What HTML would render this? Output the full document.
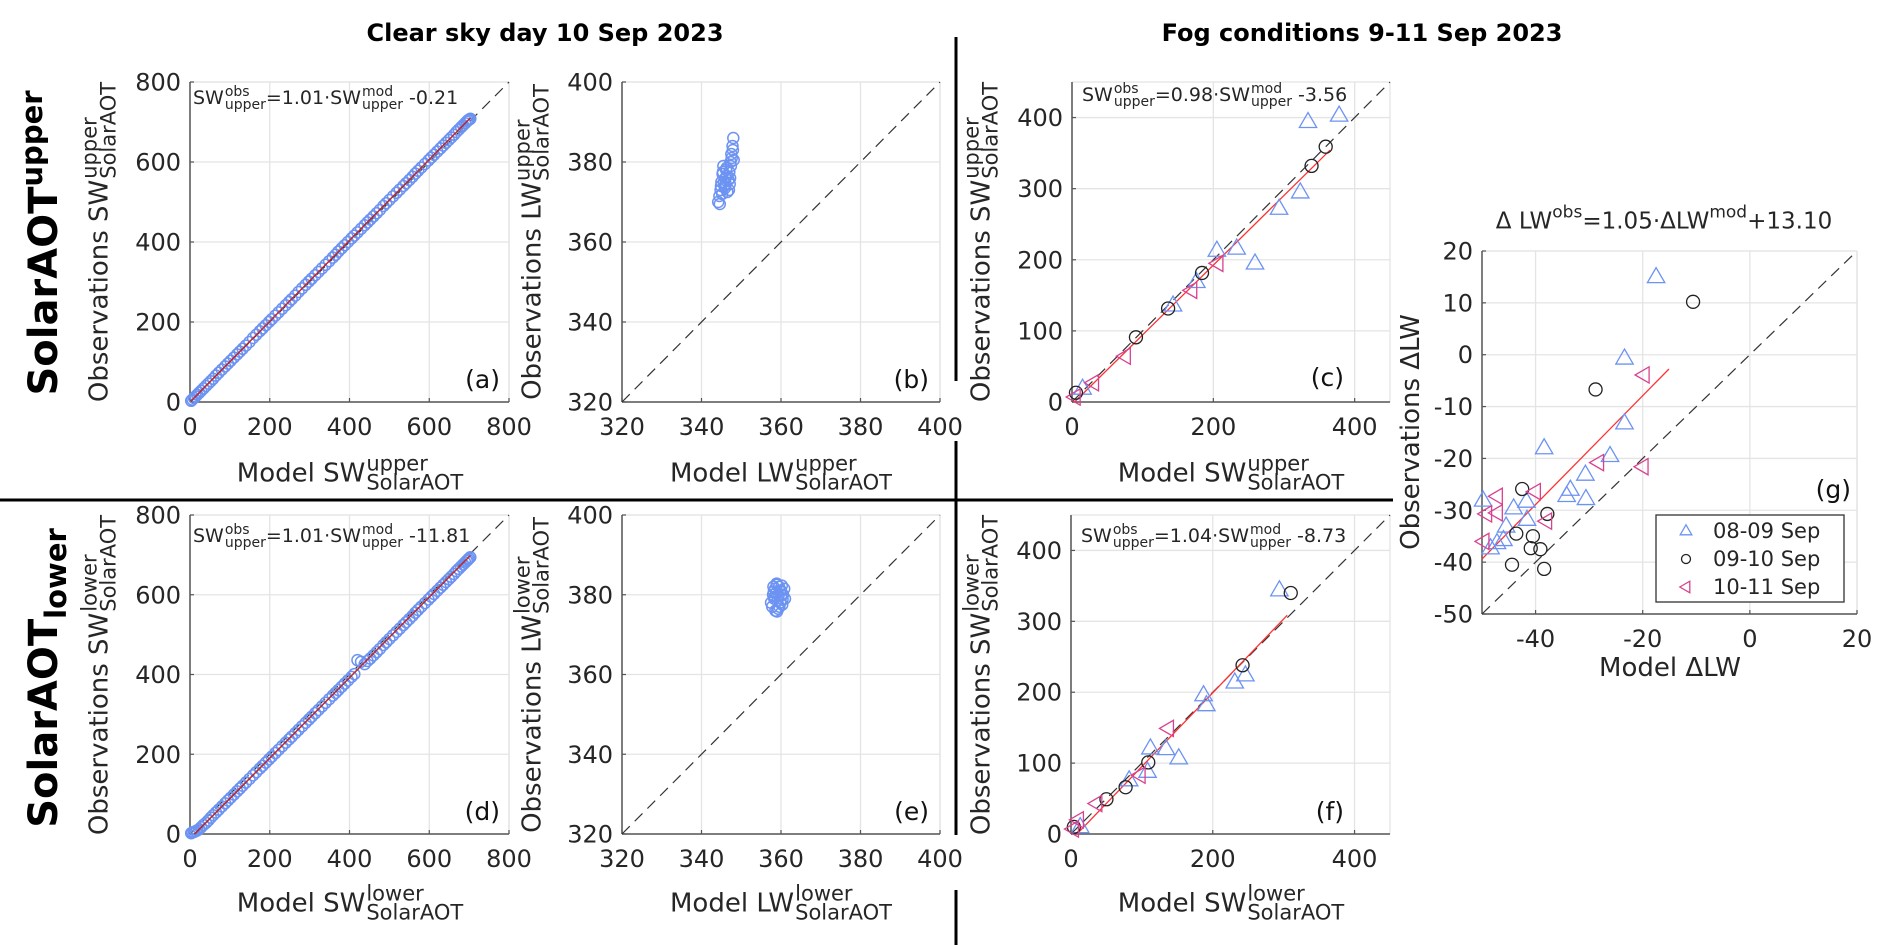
<!DOCTYPE html>
<html><head><meta charset="utf-8">
<style>
html,body{margin:0;padding:0;background:#fff;}
#wrap{position:relative;width:1892px;height:945px;overflow:hidden;background:#fff;font-family:"DejaVu Sans","Liberation Sans",sans-serif;color:#262626;}
svg{position:absolute;left:0;top:0;}
.lab{position:absolute;display:flex;align-items:center;white-space:nowrap;line-height:1;}
.stk{display:inline-flex;flex-direction:column;line-height:0.92;margin-left:1px;}
.ax{font-size:26px;}
.ax .stk span{font-size:21px;}
.eq{font-size:19px;transform:translateY(-50%);}
.eq .stk span{font-size:14px;}
.rot{transform:translate(-50%,-50%) rotate(-90deg);}
.hc{transform:translate(-50%,-50%);}
.row{font-size:40px;font-weight:bold;color:#000;}
.ttl{font-size:24px;font-weight:bold;color:#000;}
.gt{font-size:23px;}
.gt .sp{font-size:17px;position:relative;top:-0.55em;}
</style></head>
<body>
<div id="wrap">
<svg id="chart" width="1892" height="945" viewBox="0 0 1892 945" xmlns="http://www.w3.org/2000/svg"></svg>

<div class="lab ttl hc" style="left:545px;top:33px;">Clear sky day 10 Sep 2023</div>
<div class="lab ttl hc" style="left:1362px;top:33px;">Fog conditions 9-11 Sep 2023</div>

<div class="lab row rot" style="left:44px;top:243px;"><span>SolarAOT</span><span style="font-size:29px;position:relative;top:-12px;">upper</span></div>
<div class="lab row rot" style="left:44px;top:678px;"><span>SolarAOT</span><span style="font-size:29px;position:relative;top:12px;">lower</span></div>

<div class="lab ax rot" style="left:100px;top:242px;"><span>Observations SW</span><span class="stk"><span>upper</span><span>SolarAOT</span></span></div>
<div class="lab ax rot" style="left:533px;top:242px;"><span>Observations LW</span><span class="stk"><span>upper</span><span>SolarAOT</span></span></div>
<div class="lab ax rot" style="left:982px;top:242px;"><span>Observations SW</span><span class="stk"><span>upper</span><span>SolarAOT</span></span></div>
<div class="lab ax rot" style="left:100px;top:675px;"><span>Observations SW</span><span class="stk"><span>lower</span><span>SolarAOT</span></span></div>
<div class="lab ax rot" style="left:533px;top:675px;"><span>Observations LW</span><span class="stk"><span>lower</span><span>SolarAOT</span></span></div>
<div class="lab ax rot" style="left:982px;top:675px;"><span>Observations SW</span><span class="stk"><span>lower</span><span>SolarAOT</span></span></div>
<div class="lab ax rot" style="left:1411px;top:432px;"><span>Observations ΔLW</span></div>

<div class="lab ax hc" style="left:350px;top:474px;"><span>Model SW</span><span class="stk"><span>upper</span><span>SolarAOT</span></span></div>
<div class="lab ax hc" style="left:781px;top:474px;"><span>Model LW</span><span class="stk"><span>upper</span><span>SolarAOT</span></span></div>
<div class="lab ax hc" style="left:1231px;top:474px;"><span>Model SW</span><span class="stk"><span>upper</span><span>SolarAOT</span></span></div>
<div class="lab ax hc" style="left:350px;top:904px;"><span>Model SW</span><span class="stk"><span>lower</span><span>SolarAOT</span></span></div>
<div class="lab ax hc" style="left:781px;top:904px;"><span>Model LW</span><span class="stk"><span>lower</span><span>SolarAOT</span></span></div>
<div class="lab ax hc" style="left:1231px;top:904px;"><span>Model SW</span><span class="stk"><span>lower</span><span>SolarAOT</span></span></div>
<div class="lab ax hc" style="left:1670px;top:668px;"><span>Model ΔLW</span></div>

<div class="lab eq" style="left:193px;top:99px;"><span>SW</span><span class="stk"><span>obs</span><span>upper</span></span><span>=1.01·SW</span><span class="stk"><span>mod</span><span>upper</span></span><span>&nbsp;-0.21</span></div>
<div class="lab eq" style="left:1082px;top:96px;"><span>SW</span><span class="stk"><span>obs</span><span>upper</span></span><span>=0.98·SW</span><span class="stk"><span>mod</span><span>upper</span></span><span>&nbsp;-3.56</span></div>
<div class="lab eq" style="left:193px;top:537px;"><span>SW</span><span class="stk"><span>obs</span><span>upper</span></span><span>=1.01·SW</span><span class="stk"><span>mod</span><span>upper</span></span><span>&nbsp;-11.81</span></div>
<div class="lab eq" style="left:1081px;top:537px;"><span>SW</span><span class="stk"><span>obs</span><span>upper</span></span><span>=1.04·SW</span><span class="stk"><span>mod</span><span>upper</span></span><span>&nbsp;-8.73</span></div>
<div class="lab gt hc" style="left:1664px;top:222px;"><span>Δ LW</span><span class="sp">obs</span><span>=1.05·ΔLW</span><span class="sp">mod</span><span>+13.10</span></div>
</div>

<script>
// ---- data ----
const modelA=[3,6,10,14,18,23,28,34,40,46,52,58,65,72,80,88,95,102,110,118,125,132,140,149,158,166,175,182,190,198,205,214,222,231,240,248,255,264,272,281,290,298,305,314,322,331,340,349,358,365,372,380,388,396,405,412,420,429,438,445,452,460,468,476,485,492,500,509,518,526,535,542,550,558,565,572,580,589,598,605,612,620,628,635,642,649,655,662,668,674,680,685,690,694,697,700,703];
const obsA=[3,6,10,14,18,23,28,34,40,46,52,58,66,73,81,89,96,103,111,119,126,133,141,150,160,168,177,184,192,200,207,216,224,233,242,250,257,266,275,284,293,301,308,317,325,334,343,352,361,368,376,384,392,400,409,416,424,433,442,449,456,464,472,480,490,497,505,514,523,531,540,547,555,563,571,578,586,595,604,611,618,626,634,641,648,655,661,668,675,681,687,692,697,701,704,706,708];
const modelD=[3,6,10,14,18,23,28,34,40,46,52,58,65,72,80,88,95,102,110,118,125,132,140,149,158,166,175,182,190,198,205,214,222,231,240,248,255,264,272,281,290,298,305,314,322,331,340,349,358,365,372,380,388,396,405,412,420,429,438,445,452,460,468,476,485,492,500,509,518,526,535,542,550,558,565,572,580,589,598,605,612,620,628,635,642,649,655,662,668,674,680,685,690,694,697,700,703];
const obsD=[2,4,5,7,9,12,17,23,28,34,41,47,54,61,69,77,84,91,99,107,114,121,129,138,147,155,164,171,179,187,194,203,211,220,229,237,244,253,261,270,279,287,294,303,311,320,329,338,347,354,361,369,377,385,394,401,436,432,426,434,440,448,456,464,474,481,489,498,507,515,524,531,539,547,555,562,570,579,588,595,602,610,618,625,632,639,645,652,659,665,671,676,681,685,688,691,694];
const lwModelB=[344.2,344.5,344.8,345,345.3,345.5,345.8,346,346.2,346.5,346.8,347,347.3,347.5,347.8,348,344.6,345.2,345.9,346.4,347.1,347.6,347.9,348.1,345.6,346.3,344.9,347.4,346.9,345.4,347.2,346.1];
const lwObsB=[370,371.5,373,375,377,379,374,376,378,372.5,375.5,377.5,380,382,384,386,369.5,372,373.5,376.5,374.5,381,383,380.5,375,378.5,374,379,373,377.5,376,374.5];
const lwModelE=[357.5,358,358.5,359,359.5,360,360.5,361,357.8,358.3,358.8,359.3,359.8,360.3,360.8,358.1,358.6,359.1,359.6,360.1,359,358.4,359.7,360.4,358.9,359.4,360.2,358.2];
const lwObsE=[378,380,381.5,382.5,382,381,380,379,377,379,380.5,376.5,378,377.5,381.5,382,376,378.5,377,380,375.8,379.5,381,378.8,382.8,379.8,382.3,380.8];
const cBlueX=[15,143,176,205,233,259,293,323,334,378];
const cBlueY=[19,136,169,213,216,195,272,295,394,403];
const cBlackX=[5.6,90.5,136,184,339,359];
const cBlackY=[13,91,131.5,181.5,332,359];
const cMagX=[4,30,75,169,206];
const cMagY=[7,27,64.5,157,195];
const fBlueX=[13,82,108,112,134,152,187,191,231,246,294];
const fBlueY=[10,76,88,121,120,107,196,182,214,224,344];
const fBlackX=[4,50,77,109,242,310];
const fBlackY=[10,49,66,101,238,340];
const fMagX=[3,10,36,97,137];
const fMagY=[7,20,43,83,149];
const gBlueX=[-17.5,-23.4,-23.4,-38.4,-26.1,-30.7,-33.5,-34.2,-30.6,-49.8,-41.7,-44.1,-41.6,-45.5,-46,-47.2,-48.4];
const gBlueY=[15,-0.7,-13.2,-18,-19.5,-23.1,-26,-27.2,-27.8,-28.1,-28.3,-29.6,-31.8,-33.1,-35.7,-36.3,-37.3];
const gBlackX=[-10.6,-28.8,-42.5,-37.8,-43.6,-40.5,-40.9,-39.1,-44.4,-38.4];
const gBlackY=[10.2,-6.7,-25.9,-30.7,-34.5,-35,-37.3,-37.5,-40.5,-41.3];
const gMagX=[-19.8,-20,-28.3,-40.1,-47.2,-49.2,-47.2,-38,-49.7];
const gMagY=[-3.9,-21.6,-20.8,-26.4,-27.3,-30.7,-30.5,-32.1,-36];
const fitSlope=[1.01,1.01,0.98,1.04,1.05];
const fitIcpt=[-0.21,-11.81,-3.56,-8.73,13.10];
const ticksSW=[0,200,400,600,800];
const ticksLW=[320,340,360,380,400];
const ticksFogX=[0,200,400];
const ticksFogY=[0,100,200,300,400];
const ticksG=[-50,-40,-30,-20,-10,0,10,20];
const ticksGX=[-40,-20,0,20];
const legendLabels=['08-09 Sep','09-10 Sep','10-11 Sep'];

const NS='http://www.w3.org/2000/svg';
const svg=document.getElementById('chart');
const BLUE='#6d93f2', MAG='#d9418f', BLK='#222';
function el(tag,attrs,parent){const e=document.createElementNS(NS,tag);for(const k in attrs)e.setAttribute(k,attrs[k]);(parent||svg).appendChild(e);return e;}
function mkPanel(px0,px1,py0,py1,xmin,xmax,ymin,ymax){return {px0,px1,py0,py1,xmin,xmax,ymin,ymax,
 sx:v=>px0+(v-xmin)/(xmax-xmin)*(px1-px0), sy:v=>py1-(v-ymin)/(ymax-ymin)*(py1-py0)};}

function axes(P,name,xt,yt,gxt){
 const g=el('g',{});
 
 
 (gxt||xt).forEach(v=>{const l=el('line',{x1:P.sx(v),x2:P.sx(v),y1:P.py0,y2:P.py1,stroke:'#e4e4e4','stroke-width':1.3},g);
  });
 yt.forEach(v=>{const l=el('line',{x1:P.px0,x2:P.px1,y1:P.sy(v),y2:P.sy(v),stroke:'#e4e4e4','stroke-width':1.3},g);
  });
 el('line',{x1:P.px1,x2:P.px1,y1:P.py0,y2:P.py1,stroke:'#e4e4e4','stroke-width':1.3},g);
 el('line',{x1:P.px0,x2:P.px1,y1:P.py0,y2:P.py0,stroke:'#e4e4e4','stroke-width':1.3},g);
 const ax=el('line',{x1:P.px0,x2:P.px1,y1:P.py1,y2:P.py1,stroke:'#555','stroke-width':1.5},g);
 
 const ay=el('line',{x1:P.px0,x2:P.px0,y1:P.py0,y2:P.py1,stroke:'#555','stroke-width':1.5},g);
 
 xt.forEach(v=>{el('line',{x1:P.sx(v),x2:P.sx(v),y1:P.py1,y2:P.py1-4,stroke:'#555','stroke-width':1.2},g);
  const t=el('text',{x:P.sx(v),y:P.py1+33,'text-anchor':'middle','font-size':24,fill:'#262626','font-family':'DejaVu Sans, Liberation Sans, sans-serif'},g);
  t.textContent=v;});
 yt.forEach(v=>{el('line',{x1:P.px0,x2:P.px0+4,y1:P.sy(v),y2:P.sy(v),stroke:'#555','stroke-width':1.2},g);
  const t=el('text',{x:P.px0-9,y:P.sy(v)+8.5,'text-anchor':'end','font-size':24,fill:'#262626','font-family':'DejaVu Sans, Liberation Sans, sans-serif'},g);
  t.textContent=v;});
 const lo=Math.max(P.xmin,P.ymin),hi=Math.min(P.xmax,P.ymax);
 const d=el('line',{x1:P.sx(lo),y1:P.sy(lo),x2:P.sx(hi),y2:P.sy(hi),stroke:'#333','stroke-width':1.2,'stroke-dasharray':'11,7'},g);
 
}
function letter(txt,x,y){const t=el('text',{x:x,y:y,'text-anchor':'end','font-size':25,fill:'#111','font-family':'DejaVu Sans, Liberation Sans, sans-serif'});
 t.textContent=txt;}
function circles(P,xs,ys,r,color,name,w){xs.forEach((v,i)=>{const c=el('circle',{cx:P.sx(v),cy:P.sy(ys[i]),r:r,fill:'none',stroke:color,'stroke-width':w||1.3});
 });}
function triUp(cx,cy,s,color){return el('polygon',{points:`${cx},${cy-s*0.62} ${cx-s*0.58},${cy+s*0.38} ${cx+s*0.58},${cy+s*0.38}`,fill:'none',stroke:color,'stroke-width':1.3});}
function triLeft(cx,cy,s,color){return el('polygon',{points:`${cx-s*0.62},${cy} ${cx+s*0.38},${cy-s*0.58} ${cx+s*0.38},${cy+s*0.58}`,fill:'none',stroke:color,'stroke-width':1.3});}
function ups(P,xs,ys,s,name){xs.forEach((v,i)=>{const p=triUp(P.sx(v),P.sy(ys[i]),s,BLUE);});}
function lefts(P,xs,ys,s,name){xs.forEach((v,i)=>{const p=triLeft(P.sx(v),P.sy(ys[i]),s,MAG);});}
function fit(P,k,x0,x1,color,w){const l=el('line',{x1:P.sx(x0),y1:P.sy(fitSlope[k]*x0+fitIcpt[k]),x2:P.sx(x1),y2:P.sy(fitSlope[k]*x1+fitIcpt[k]),stroke:color,'stroke-width':w||1.3});
 }

const A=mkPanel(190,509,82,402,0,800,0,800);
const B=mkPanel(622,940,82,402,320,400,320,400);
const C=mkPanel(1072,1390,82,402,0,450,0,450);
const D=mkPanel(190,509,515,834,0,800,0,800);
const E=mkPanel(622,940,515,834,320,400,320,400);
const F=mkPanel(1071,1390,515,834,0,450,0,450);
const G=mkPanel(1482,1857,251,614,-50,20,-50,20);

axes(A,'panel-a',ticksSW,ticksSW);
circles(A,modelA,obsA,5.5,BLUE,'sw-upper-point',1.5);
fit(A,0,2,703,'#000',1.3);fit(A,0,2,703,'#ff2020',1);
letter('(a)',500,388);

axes(B,'panel-b',ticksLW,ticksLW);
circles(B,lwModelB,lwObsB,5.5,BLUE,'lw-upper-point',1.5);
letter('(b)',929,388);

axes(C,'panel-c',ticksFogX,ticksFogY,[0,200,400]);
fit(C,2,4,365,'#ff3030',1.3);
ups(C,cBlueX,cBlueY,15,'fog-0809-point');
circles(C,cBlackX,cBlackY,6.5,BLK,'fog-0910-point');
lefts(C,cMagX,cMagY,14,'fog-1011-point');
letter('(c)',1344,386);

axes(D,'panel-d',ticksSW,ticksSW);
circles(D,modelD,obsD,5.5,BLUE,'sw-lower-point',1.5);
fit(D,1,12,703,'#000',1.3);fit(D,1,12,703,'#ff2020',1);
letter('(d)',500,820);

axes(E,'panel-e',ticksLW,ticksLW);
circles(E,lwModelE,lwObsE,5.5,BLUE,'lw-lower-point',1.5);
letter('(e)',929,820);

axes(F,'panel-f',ticksFogX,ticksFogY,[0,200,400]);
fit(F,3,8,305,'#ff3030',1.3);
ups(F,fBlueX,fBlueY,15,'fog-0809-point');
circles(F,fBlackX,fBlackY,6.5,BLK,'fog-0910-point');
lefts(F,fMagX,fMagY,14,'fog-1011-point');
letter('(f)',1344,820);

axes(G,'panel-g',ticksGX,ticksG,[-40,-20,0,20]);
fit(G,4,-50,-15.1,'#ff3030',1.3);
ups(G,gBlueX,gBlueY,15,'delta-0809-point');
circles(G,gBlackX,gBlackY,6.5,BLK,'delta-0910-point');
lefts(G,gMagX,gMagY,14,'delta-1011-point');
letter('(g)',1851,498);

const lg=el('g',{});


el('rect',{x:1656,y:515,width:188,height:87,fill:'#fff',stroke:'#333','stroke-width':1.3},lg);
legendLabels.forEach((lab,i)=>{const y=531+i*28;
 let m;
 if(i===0){m=triUp(1686,y,10,BLUE);} else if(i===1){m=el('circle',{cx:1686,cy:y,r:4.5,fill:'none',stroke:BLK,'stroke-width':1.3});} else {m=triLeft(1686,y,10,MAG);}
 lg.appendChild(m);
 const t=el('text',{x:1713,y:y+7,'font-size':21,fill:'#262626','font-family':'DejaVu Sans, Liberation Sans, sans-serif'},lg);
 t.textContent=lab;
 
 
});

const dv=[[956,37,956,381],[956,441,956,835],[956,890,956,945],[0,500,1393,500]];
dv.forEach(s=>{const l=el('line',{x1:s[0],y1:s[1],x2:s[2],y2:s[3],stroke:'#000','stroke-width':3});
 });
</script>
</body></html>
